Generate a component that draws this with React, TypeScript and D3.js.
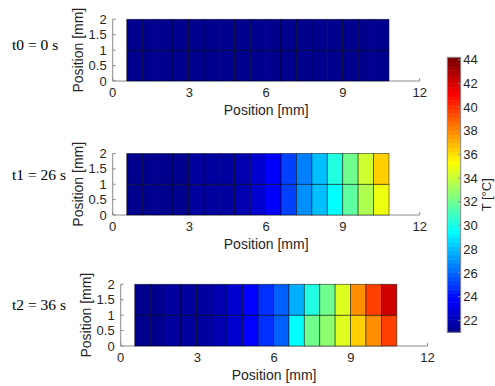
import React from "react";
import * as d3 from "d3";

// ---- data ----
const xTicks = [0, 3, 6, 9, 12];
const yTicks = [0, 0.5, 1, 1.5, 2];
const yTickLabels = ["0", "0.5", "1", "1.5", "2"];
const cbTicks = [22, 24, 26, 28, 30, 32, 34, 36, 38, 40, 42, 44];
const cMin = 21.0;
const cMax = 44.2;
const colStart = 0.55; // mm
const colEnd = 10.8; // mm
const rowEdges = [0, 1, 2]; // mm
const timeLabels = ["t0 = 0 s", "t1 = 26 s", "t2 = 36 s"];

// temperatures (°C), 17 columns, bottom row (0-1 mm) and top row (1-2 mm)
const t0Bottom = [21.0, 21.0, 21.0, 21.0, 21.0, 21.0, 21.0, 21.0, 21.0, 21.0, 21.0, 21.0, 21.0, 21.0, 21.0, 21.0, 21.0];
const t0Top = [21.0, 21.0, 21.0, 21.0, 21.0, 21.0, 21.0, 21.0, 21.0, 21.0, 21.0, 21.0, 21.0, 21.0, 21.0, 21.0, 21.0];
const t1Bottom = [21.2, 21.25, 21.3, 21.35, 21.45, 21.55, 21.6, 21.95, 22.7, 23.7, 25.3, 27.1, 28.0, 29.5, 31.55, 33.4, 34.85];
const t1Top = [21.2, 21.25, 21.3, 21.35, 21.45, 21.55, 21.6, 21.95, 22.7, 23.7, 25.1, 26.7, 27.9, 30.2, 32.2, 34.3, 36.5];
const t2Bottom = [21.2, 21.3, 21.4, 21.5, 21.7, 21.95, 22.5, 23.9, 24.85, 26.0, 29.5, 32.0, 32.9, 34.5, 36.3, 37.9, 39.8];
const t2Top = [21.2, 21.3, 21.4, 21.5, 21.7, 21.95, 22.5, 23.9, 24.85, 26.0, 27.8, 30.2, 32.2, 34.75, 37.7, 39.8, 42.1];

const series = [
  [t0Bottom, t0Top],
  [t1Bottom, t1Top],
  [t2Bottom, t2Top],
];

// ---- MATLAB jet(64) ----
const clamp = (v: number) => Math.max(0, Math.min(1, v));
function jet64(k: number) {
  const r = clamp(Math.min((k - 23) / 16, (71 - k) / 16));
  const g = clamp(Math.min((k - 7) / 16, (55 - k) / 16));
  const b = clamp(Math.min((k + 9) / 16, (39 - k) / 16));
  return d3.rgb(r * 255, g * 255, b * 255).toString();
}
function colorOf(T: number) {
  let k = Math.floor(((T - cMin) / (cMax - cMin)) * 64);
  k = Math.max(0, Math.min(63, k));
  return jet64(k);
}

// ---- layout ----
const panels = [
  { x0: 112.7, x1: 419.7, yTop: 19.3, yBot: 81, labelY: 50 },
  { x0: 112.7, x1: 419.7, yTop: 153.5, yBot: 215, labelY: 180 },
  { x0: 120.7, x1: 427.5, yTop: 284.3, yBot: 346, labelY: 310 },
];
const cb = { x0: 447.3, x1: 460.7, yTop: 57.3, yBot: 332.3 };

const sans = "'Liberation Sans', Arial, Helvetica, sans-serif";
const serif = "'Liberation Serif', 'Times New Roman', serif";
const axisColor = "#262626";
const lineColor = "#8a8a8a";

function Panel({ idx }: { idx: number }) {
  const p = panels[idx];
  const x = d3.scaleLinear().domain([0, 12]).range([p.x0, p.x1]);
  const y = d3.scaleLinear().domain([0, 2]).range([p.yBot, p.yTop]);
  const rows = series[idx];
  const nCols = rows[0].length;
  const colEdges = d3.range(nCols + 1).map((i) => colStart + ((colEnd - colStart) * i) / nCols);
  return (
    <g>
      {/* axis lines */}
      <line x1={p.x0} x2={p.x1} y1={p.yBot} y2={p.yBot} stroke={lineColor} strokeWidth={1} />
      <line x1={p.x0} x2={p.x0} y1={p.yBot} y2={p.yTop} stroke={lineColor} strokeWidth={1} />
      {xTicks.map((t) => (
        <line key={"xt" + t} x1={x(t)} x2={x(t)} y1={p.yBot} y2={p.yBot - 3} stroke={lineColor} strokeWidth={1} />
      ))}
      {yTicks.map((t) => (
        <line key={"yt" + t} x1={p.x0} x2={p.x0 + 3} y1={y(t)} y2={y(t)} stroke={lineColor} strokeWidth={1} />
      ))}
      {/* cells */}
      {rows.map((row, r) =>
        row.map((T, c) => (
          <rect
            key={r + "-" + c}
            x={x(colEdges[c])}
            y={y(rowEdges[r + 1])}
            width={x(colEdges[c + 1]) - x(colEdges[c])}
            height={y(rowEdges[r]) - y(rowEdges[r + 1])}
            fill={colorOf(T)}
            stroke="#000"
            strokeOpacity={0.6}
            strokeWidth={0.8}
          />
        ))
      )}
      {/* tick labels */}
      {xTicks.map((t) => (
        <text key={"xl" + t} x={x(t)} y={p.yBot + 15.5} textAnchor="middle" fontSize={13} fontFamily={sans} fill={axisColor}>
          {t}
        </text>
      ))}
      {yTicks.map((t, i) => (
        <text key={"yl" + t} x={p.x0 - 6} y={y(t) + 4.6} textAnchor="end" fontSize={13} fontFamily={sans} fill={axisColor}>
          {yTickLabels[i]}
        </text>
      ))}
      <text x={(p.x0 + p.x1) / 2} y={p.yBot + 33.5} textAnchor="middle" fontSize={14} fontFamily={sans} fill={axisColor}>
        Position [mm]
      </text>
      <text
        transform={`translate(${p.x0 - 34.4},${(p.yTop + p.yBot) / 2}) rotate(-90)`}
        textAnchor="middle"
        dy="0.35em"
        fontSize={14}
        fontFamily={sans}
        fill={axisColor}
      >
        Position [mm]
      </text>
      <text x={12} y={p.labelY} fontSize={15.5} fontFamily={serif} fill="#000">
        {timeLabels[idx]}
      </text>
    </g>
  );
}

function Colorbar() {
  const yc = d3.scaleLinear().domain([cMin, cMax]).range([cb.yBot, cb.yTop]);
  const bands = d3.range(64);
  const step = (cMax - cMin) / 64;
  return (
    <g>
      {bands.map((k) => (
        <rect
          key={k}
          x={cb.x0}
          y={yc(cMin + (k + 1) * step)}
          width={cb.x1 - cb.x0}
          height={yc(cMin + k * step) - yc(cMin + (k + 1) * step) + 0.5}
          fill={jet64(k)}
        />
      ))}
      <rect x={cb.x0} y={cb.yTop} width={cb.x1 - cb.x0} height={cb.yBot - cb.yTop} fill="none" stroke={lineColor} strokeWidth={1} />
      {cbTicks.map((t) => (
        <g key={t}>
          <line x1={cb.x1} x2={cb.x1 - 2.5} y1={yc(t)} y2={yc(t)} stroke={lineColor} strokeWidth={1} />
          <text x={cb.x1 + 2.6} y={yc(t) + 4.5} fontSize={13} fontFamily={sans} fill={axisColor}>
            {t}
          </text>
        </g>
      ))}
      <text
        transform={`translate(${486.5},${(cb.yTop + cb.yBot) / 2}) rotate(-90)`}
        textAnchor="middle"
        dy="0.35em"
        fontSize={13}
        fontFamily={sans}
        fill={axisColor}
      >
        T [°C]
      </text>
    </g>
  );
}

export default function App() {
  return (
    <svg width={495} height={386} style={{ position: "absolute", left: 0, top: 0, background: "#fff" }}>
      <rect width={495} height={386} fill="#fff" />
      {panels.map((_, i) => (
        <Panel key={i} idx={i} />
      ))}
      <Colorbar />
    </svg>
  );
}
